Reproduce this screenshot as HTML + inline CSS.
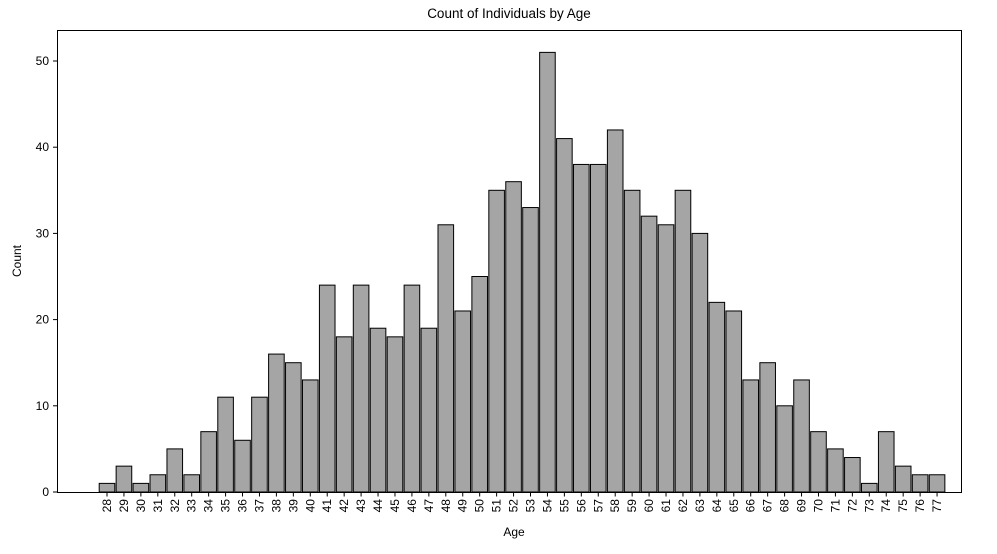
<!DOCTYPE html>
<html><head><meta charset="utf-8">
<style>
body{margin:0;background:#fff;}
svg text{font-family:"Liberation Sans","DejaVu Sans",sans-serif;fill:#000;}
</style></head>
<body>
<svg id="chart" width="997" height="549">
<rect x="0" y="0" width="997" height="549" fill="#fff"/>
<text x="509" y="18" font-size="13.5" text-anchor="middle">Count of Individuals by Age</text>
<text x="514" y="536" font-size="12" text-anchor="middle">Age</text>
<text x="21" y="261" font-size="12" text-anchor="middle" transform="rotate(-90 21 261)">Count</text>
<g id="bars"></g>
<g id="yticks"></g>
<g id="xticks"></g>
<rect x="57.5" y="30.5" width="904" height="462" fill="none" stroke="#000" stroke-width="1"/>
</svg>
<script>
const categories=[28,29,30,31,32,33,34,35,36,37,38,39,40,41,42,43,44,45,46,47,48,49,50,51,52,53,54,55,56,57,58,59,60,61,62,63,64,65,66,67,68,69,70,71,72,73,74,75,76,77];
const counts=[1,3,1,2,5,2,7,11,6,11,16,15,13,24,18,24,19,18,24,19,31,21,25,35,36,33,51,41,38,38,42,35,32,31,35,30,22,21,13,15,10,13,7,5,4,1,7,3,2,2];
const yTickValues=[0,10,20,30,40,50];
const NS="http://www.w3.org/2000/svg";
function xScale(i){return 107+16.94*i;}
function yScale(v){return 492-8.62*v;}
const bw=15.6;
const gb=document.getElementById('bars'),gy=document.getElementById('yticks'),gx=document.getElementById('xticks');
categories.forEach((c,i)=>{
  const r=document.createElementNS(NS,'rect');
  r.setAttribute('x',xScale(i)-bw/2);r.setAttribute('y',yScale(counts[i]));
  r.setAttribute('width',bw);r.setAttribute('height',yScale(0)-yScale(counts[i]));
  r.setAttribute('fill','#a5a5a5');r.setAttribute('stroke','#000');r.setAttribute('stroke-width','1');
  
  
  gb.appendChild(r);
  const t=document.createElementNS(NS,'line');
  t.setAttribute('x1',xScale(i));t.setAttribute('x2',xScale(i));t.setAttribute('y1',492.5);t.setAttribute('y2',496.5);t.setAttribute('stroke','#000');
  
  
  gx.appendChild(t);
  const l=document.createElementNS(NS,'text');
  const lx=xScale(i)+4,ly=499;
  l.setAttribute('x',lx);l.setAttribute('y',ly);l.setAttribute('font-size','12');l.setAttribute('text-anchor','end');
  l.setAttribute('transform','rotate(-90 '+lx+' '+ly+')');
  l.textContent=c;
  
  
  gx.appendChild(l);
});
yTickValues.forEach(v=>{
  const y=yScale(v);
  const t=document.createElementNS(NS,'line');
  t.setAttribute('x1',53);t.setAttribute('x2',57.5);t.setAttribute('y1',y);t.setAttribute('y2',y);t.setAttribute('stroke','#000');
  
  
  gy.appendChild(t);
  const l=document.createElementNS(NS,'text');
  l.setAttribute('x',49);l.setAttribute('y',y+4);l.setAttribute('font-size','12');l.setAttribute('text-anchor','end');
  l.textContent=v;
  
  
  gy.appendChild(l);
});
</script>
</body></html>
